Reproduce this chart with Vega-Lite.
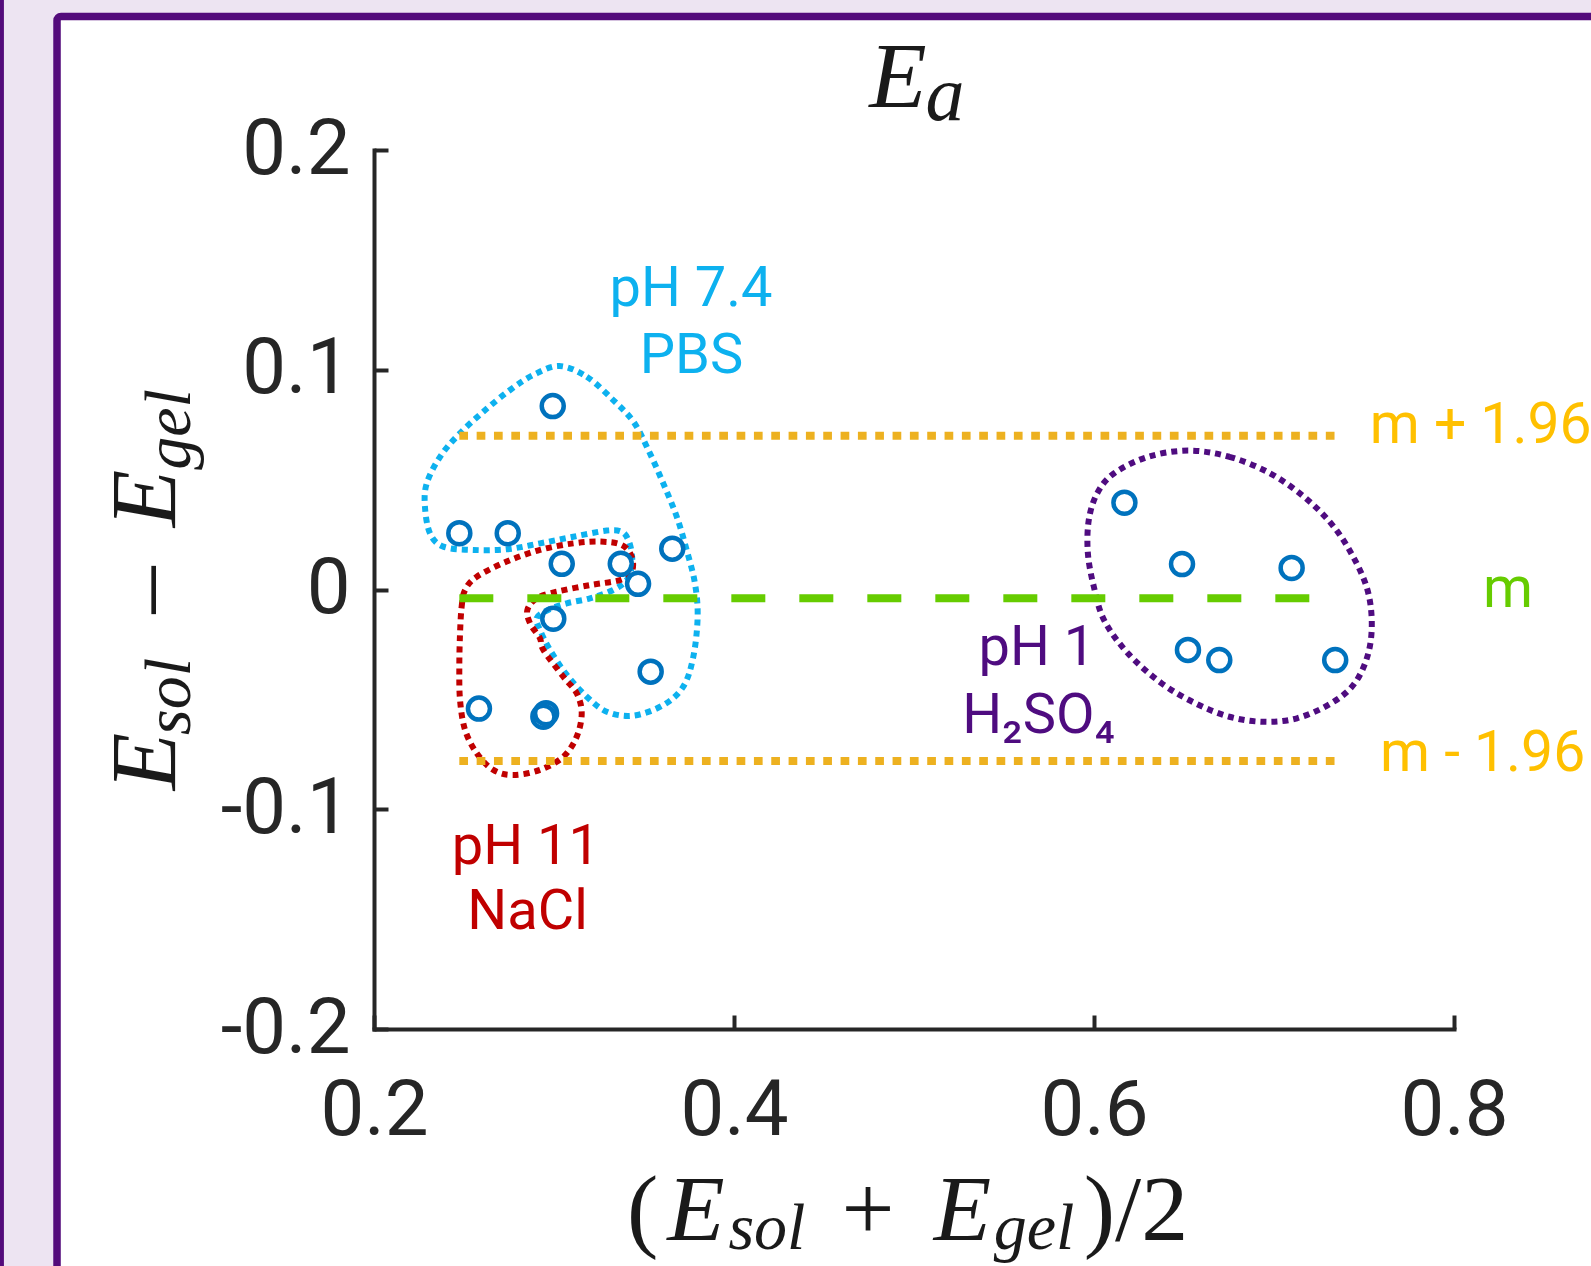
{
  "$schema": "https://vega.github.io/schema/vega-lite/v6.json",
  "width": 1080,
  "height": 879,
  "autosize": "none",
  "padding": {"left": 374, "top": 150, "right": 137, "bottom": 237},
  "background": "#EDE4F2",
  "config": {
    "view": {"stroke": null},
    "axis": {
      "grid": false, "domainColor": "#262626", "domainWidth": 4, "domainCap": "square",
      "tickColor": "#262626", "tickWidth": 4, "tickSize": -14,
      "labelFont": "Roboto", "labelFontSize": 78, "labelFontWeight": 400, "labelColor": "#262626",
      "labelFlush": false, "labelOverlap": false, "labelBound": false
    },
    "axisX": {"labelPadding": 57, "labelAlign": "center", "labelBaseline": "top"},
    "axisY": {"labelPadding": 38, "labelAlign": "right", "labelBaseline": "middle"}
  },
  "datasets": {
    "points": [
      {"solution": "PBS", "x": 0.2993, "y": 0.0835},
      {"solution": "PBS", "x": 0.2474, "y": 0.0256},
      {"solution": "PBS", "x": 0.2743, "y": 0.0256},
      {"solution": "PBS", "x": 0.3043, "y": 0.0117},
      {"solution": "PBS", "x": 0.3371, "y": 0.0117},
      {"solution": "PBS", "x": 0.3657, "y": 0.0186},
      {"solution": "PBS", "x": 0.3467, "y": 0.0026},
      {"solution": "PBS", "x": 0.2996, "y": -0.0133},
      {"solution": "PBS", "x": 0.3537, "y": -0.0374},
      {"solution": "NaCl", "x": 0.2583, "y": -0.0542},
      {"solution": "NaCl", "x": 0.2941, "y": -0.0579},
      {"solution": "NaCl", "x": 0.2956, "y": -0.0563},
      {"solution": "H2SO4", "x": 0.6169, "y": 0.0395},
      {"solution": "H2SO4", "x": 0.6489, "y": 0.0116},
      {"solution": "H2SO4", "x": 0.7098, "y": 0.0098},
      {"solution": "H2SO4", "x": 0.6522, "y": -0.0275},
      {"solution": "H2SO4", "x": 0.6696, "y": -0.0321},
      {"solution": "H2SO4", "x": 0.7340, "y": -0.0321}
    ],
    "limits": [
      {"name": "m", "x": 0.2474, "x2": 0.7340, "y": -0.0040},
      {"name": "upper", "x": 0.2474, "x2": 0.7340, "y": 0.0700},
      {"name": "lower", "x": 0.2474, "x2": 0.7340, "y": -0.0780}
    ],
    "outlines": [
      {"solution": "PBS", "i": 0, "x": 0.3029, "y": 0.1017},
      {"solution": "PBS", "i": 1, "x": 0.3182, "y": 0.0968},
      {"solution": "PBS", "i": 2, "x": 0.3329, "y": 0.0862},
      {"solution": "PBS", "i": 3, "x": 0.3441, "y": 0.0764},
      {"solution": "PBS", "i": 4, "x": 0.3524, "y": 0.0635},
      {"solution": "PBS", "i": 5, "x": 0.3607, "y": 0.0483},
      {"solution": "PBS", "i": 6, "x": 0.3682, "y": 0.0331},
      {"solution": "PBS", "i": 7, "x": 0.3737, "y": 0.0180},
      {"solution": "PBS", "i": 8, "x": 0.3783, "y": 0.0028},
      {"solution": "PBS", "i": 9, "x": 0.3798, "y": -0.0124},
      {"solution": "PBS", "i": 10, "x": 0.3774, "y": -0.0306},
      {"solution": "PBS", "i": 11, "x": 0.3718, "y": -0.0442},
      {"solution": "PBS", "i": 12, "x": 0.3607, "y": -0.0526},
      {"solution": "PBS", "i": 13, "x": 0.3441, "y": -0.0574},
      {"solution": "PBS", "i": 14, "x": 0.3293, "y": -0.0556},
      {"solution": "PBS", "i": 15, "x": 0.3182, "y": -0.0488},
      {"solution": "PBS", "i": 16, "x": 0.3071, "y": -0.0389},
      {"solution": "PBS", "i": 17, "x": 0.2978, "y": -0.0275},
      {"solution": "PBS", "i": 18, "x": 0.2922, "y": -0.0184},
      {"solution": "PBS", "i": 19, "x": 0.2904, "y": -0.0130},
      {"solution": "PBS", "i": 20, "x": 0.2967, "y": -0.0093},
      {"solution": "PBS", "i": 21, "x": 0.3071, "y": -0.0063},
      {"solution": "PBS", "i": 22, "x": 0.3200, "y": -0.0040},
      {"solution": "PBS", "i": 23, "x": 0.3329, "y": -0.0002},
      {"solution": "PBS", "i": 24, "x": 0.3404, "y": 0.0043},
      {"solution": "PBS", "i": 25, "x": 0.3432, "y": 0.0104},
      {"solution": "PBS", "i": 26, "x": 0.3432, "y": 0.0165},
      {"solution": "PBS", "i": 27, "x": 0.3413, "y": 0.0225},
      {"solution": "PBS", "i": 28, "x": 0.3376, "y": 0.0263},
      {"solution": "PBS", "i": 29, "x": 0.3293, "y": 0.0268},
      {"solution": "PBS", "i": 30, "x": 0.3107, "y": 0.0240},
      {"solution": "PBS", "i": 31, "x": 0.2922, "y": 0.0210},
      {"solution": "PBS", "i": 32, "x": 0.2737, "y": 0.0183},
      {"solution": "PBS", "i": 33, "x": 0.2552, "y": 0.0180},
      {"solution": "PBS", "i": 34, "x": 0.2385, "y": 0.0195},
      {"solution": "PBS", "i": 35, "x": 0.2311, "y": 0.0256},
      {"solution": "PBS", "i": 36, "x": 0.2283, "y": 0.0377},
      {"solution": "PBS", "i": 37, "x": 0.2293, "y": 0.0483},
      {"solution": "PBS", "i": 38, "x": 0.2367, "y": 0.0604},
      {"solution": "PBS", "i": 39, "x": 0.2468, "y": 0.0703},
      {"solution": "PBS", "i": 40, "x": 0.2607, "y": 0.0809},
      {"solution": "PBS", "i": 41, "x": 0.2756, "y": 0.0908},
      {"solution": "PBS", "i": 42, "x": 0.2885, "y": 0.0976},
      {"solution": "NaCl", "i": 0, "x": 0.2478, "y": -0.0199},
      {"solution": "NaCl", "i": 1, "x": 0.2487, "y": -0.0078},
      {"solution": "NaCl", "i": 2, "x": 0.2506, "y": -0.0002},
      {"solution": "NaCl", "i": 3, "x": 0.2571, "y": 0.0058},
      {"solution": "NaCl", "i": 4, "x": 0.2737, "y": 0.0127},
      {"solution": "NaCl", "i": 5, "x": 0.2922, "y": 0.0180},
      {"solution": "NaCl", "i": 6, "x": 0.3107, "y": 0.0210},
      {"solution": "NaCl", "i": 7, "x": 0.3256, "y": 0.0218},
      {"solution": "NaCl", "i": 8, "x": 0.3376, "y": 0.0203},
      {"solution": "NaCl", "i": 9, "x": 0.3432, "y": 0.0149},
      {"solution": "NaCl", "i": 10, "x": 0.3432, "y": 0.0081},
      {"solution": "NaCl", "i": 11, "x": 0.3367, "y": 0.0043},
      {"solution": "NaCl", "i": 12, "x": 0.3200, "y": 0.0020},
      {"solution": "NaCl", "i": 13, "x": 0.3015, "y": -0.0010},
      {"solution": "NaCl", "i": 14, "x": 0.2904, "y": -0.0040},
      {"solution": "NaCl", "i": 15, "x": 0.2852, "y": -0.0093},
      {"solution": "NaCl", "i": 16, "x": 0.2867, "y": -0.0154},
      {"solution": "NaCl", "i": 17, "x": 0.2922, "y": -0.0222},
      {"solution": "NaCl", "i": 18, "x": 0.2941, "y": -0.0275},
      {"solution": "NaCl", "i": 19, "x": 0.3052, "y": -0.0397},
      {"solution": "NaCl", "i": 20, "x": 0.3126, "y": -0.0472},
      {"solution": "NaCl", "i": 21, "x": 0.3154, "y": -0.0563},
      {"solution": "NaCl", "i": 22, "x": 0.3126, "y": -0.0670},
      {"solution": "NaCl", "i": 23, "x": 0.3052, "y": -0.0761},
      {"solution": "NaCl", "i": 24, "x": 0.2922, "y": -0.0821},
      {"solution": "NaCl", "i": 25, "x": 0.2774, "y": -0.0844},
      {"solution": "NaCl", "i": 26, "x": 0.2663, "y": -0.0821},
      {"solution": "NaCl", "i": 27, "x": 0.2571, "y": -0.0745},
      {"solution": "NaCl", "i": 28, "x": 0.2506, "y": -0.0639},
      {"solution": "NaCl", "i": 29, "x": 0.2478, "y": -0.0503},
      {"solution": "NaCl", "i": 30, "x": 0.2474, "y": -0.0351},
      {"solution": "H2SO4", "i": 0, "x": 0.6526, "y": 0.0632},
      {"solution": "H2SO4", "i": 1, "x": 0.6752, "y": 0.0604},
      {"solution": "H2SO4", "i": 2, "x": 0.6978, "y": 0.0529},
      {"solution": "H2SO4", "i": 3, "x": 0.7166, "y": 0.0422},
      {"solution": "H2SO4", "i": 4, "x": 0.7317, "y": 0.0301},
      {"solution": "H2SO4", "i": 5, "x": 0.7429, "y": 0.0165},
      {"solution": "H2SO4", "i": 6, "x": 0.7514, "y": 0.0013},
      {"solution": "H2SO4", "i": 7, "x": 0.7543, "y": -0.0139},
      {"solution": "H2SO4", "i": 8, "x": 0.7524, "y": -0.0290},
      {"solution": "H2SO4", "i": 9, "x": 0.7448, "y": -0.0427},
      {"solution": "H2SO4", "i": 10, "x": 0.7317, "y": -0.0518},
      {"solution": "H2SO4", "i": 11, "x": 0.7128, "y": -0.0586},
      {"solution": "H2SO4", "i": 12, "x": 0.6941, "y": -0.0602},
      {"solution": "H2SO4", "i": 13, "x": 0.6752, "y": -0.0579},
      {"solution": "H2SO4", "i": 14, "x": 0.6564, "y": -0.0518},
      {"solution": "H2SO4", "i": 15, "x": 0.6376, "y": -0.0427},
      {"solution": "H2SO4", "i": 16, "x": 0.6188, "y": -0.0290},
      {"solution": "H2SO4", "i": 17, "x": 0.6056, "y": -0.0139},
      {"solution": "H2SO4", "i": 18, "x": 0.5999, "y": 0.0013},
      {"solution": "H2SO4", "i": 19, "x": 0.5966, "y": 0.0165},
      {"solution": "H2SO4", "i": 20, "x": 0.5971, "y": 0.0316},
      {"solution": "H2SO4", "i": 21, "x": 0.6018, "y": 0.0438},
      {"solution": "H2SO4", "i": 22, "x": 0.6112, "y": 0.0529},
      {"solution": "H2SO4", "i": 23, "x": 0.6301, "y": 0.0604}
    ],
    "groupLabels": [
      {"solution": "PBS", "x": 0.3761, "y": 0.1290, "text": "pH 7.4"},
      {"solution": "PBS", "x": 0.3764, "y": 0.0985, "text": "PBS"},
      {"solution": "H2SO4", "x": 0.5683, "y": -0.0342, "text": "pH 1"},
      {"solution": "H2SO4", "x": 0.5692, "y": -0.0651, "text": "H₂SO₄"},
      {"solution": "NaCl", "x": 0.2844, "y": -0.1251, "text": "pH 11"},
      {"solution": "NaCl", "x": 0.2853, "y": -0.1547, "text": "NaCl"}
    ],
    "limitLabels": [
      {"name": "upper", "x": 0.7532, "y": 0.0665, "text": "m + 1.96"},
      {"name": "m", "x": 0.8161, "y": -0.0079, "text": "m"},
      {"name": "lower", "x": 0.7589, "y": -0.0826, "text": "m - 1.96"}
    ],
    "mathItalic": [
      {"x": 0.3789, "y": -0.2960, "text": "E"},
      {"x": 0.5269, "y": -0.2960, "text": "E"},
      {"x": 0.4911, "y": 0.2196, "text": "E"}
    ],
    "mathSub": [
      {"x": 0.4183, "y": -0.3001, "text": "sol"},
      {"x": 0.5667, "y": -0.3001, "text": "gel"}
    ],
    "mathTitleSub": [
      {"x": 0.5172, "y": 0.2137, "text": "a"}
    ],
    "mathUpright": [
      {"x": 0.3492, "y": -0.2960, "text": "("},
      {"x": 0.4744, "y": -0.2960, "text": "+"},
      {"x": 0.6233, "y": -0.2960, "text": ")/2"}
    ],
    "mathItalicRot": [
      {"x": 0.0894, "y": -0.0783, "text": "E"},
      {"x": 0.0894, "y": 0.0414, "text": "E"}
    ],
    "mathSubRot": [
      {"x": 0.0977, "y": -0.0487, "text": "sol"},
      {"x": 0.0977, "y": 0.0728, "text": "gel"}
    ],
    "mathUprightRot": [
      {"x": 0.0894, "y": -0.0002, "text": "–"}
    ]
  },
  "encoding": {
    "x": {"field": "x", "type": "quantitative", "title": null,
      "scale": {"domain": [0.2, 0.8], "nice": false, "zero": false},
      "axis": {"zindex": 1, "values": [0.2, 0.4, 0.6, 0.8], "labelExpr": "replace(format(datum.value, '.1f'), '−', '-')"}},
    "y": {"field": "y", "type": "quantitative", "title": null,
      "scale": {"domain": [-0.2, 0.2], "nice": false, "zero": false},
      "axis": {"zindex": 1, "values": [-0.2, -0.1, 0, 0.1, 0.2], "labelExpr": "datum.value == 0 ? '0' : replace(format(datum.value, '.1f'), '−', '-')"}}
  },
  "layer": [
    {
      "data": {"name": "limits"},
      "transform": [{"filter": "datum.name == 'm'"}],
      "mark": {"type": "rect", "fill": "#FFFFFF", "stroke": "#530B7B", "strokeWidth": 7.5, "cornerRadius": 4},
      "encoding": {
        "x": {"datum": 0.0239},
        "x2": {"datum": 0.8922},
        "y": {"datum": 0.2608},
        "y2": {"datum": -0.3233}
      }
    },
    {
      "data": {"name": "limits"},
      "transform": [{"filter": "datum.name == 'm'"}],
      "mark": {"type": "rect", "fill": "#530B7B"},
      "encoding": {
        "x": {"datum": -0.0106},
        "x2": {"datum": -0.0056},
        "y": {"datum": 0.3},
        "y2": {"datum": -0.35}
      }
    },
    {
      "data": {"name": "outlines"},
      "mark": {"type": "line", "interpolate": "cardinal-closed", "strokeWidth": 6, "strokeDash": [6, 5], "strokeCap": "butt"},
      "encoding": {
        "color": {"field": "solution", "type": "nominal", "legend": null,
          "scale": {"domain": ["PBS", "NaCl", "H2SO4"], "range": ["#0DB1EF", "#C00000", "#4F0C80"]}},
        "detail": {"field": "solution"},
        "order": {"field": "i", "type": "quantitative"}
      }
    },
    {
      "data": {"name": "limits"},
      "transform": [{"filter": "datum.name == 'm'"}],
      "mark": {"type": "rule", "color": "#66CC00", "strokeWidth": 8, "strokeDash": [34, 34], "strokeCap": "butt"},
      "encoding": {"x2": {"field": "x2"}}
    },
    {
      "data": {"name": "limits"},
      "transform": [{"filter": "datum.name != 'm'"}],
      "mark": {"type": "rule", "color": "#EDB120", "strokeWidth": 8, "strokeDash": [8.7, 8.63], "strokeCap": "butt"},
      "encoding": {"x2": {"field": "x2"}}
    },
    {
      "data": {"name": "points"},
      "mark": {"type": "point", "shape": "circle", "filled": false, "size": 484, "strokeWidth": 4.5, "color": "#0072BD", "opacity": 1}
    },
    {
      "data": {"name": "groupLabels"},
      "mark": {"type": "text", "font": "Roboto", "fontSize": 56, "align": "center", "baseline": "alphabetic"},
      "encoding": {
        "text": {"field": "text"},
        "color": {"field": "solution", "type": "nominal", "legend": null,
          "scale": {"domain": ["PBS", "NaCl", "H2SO4"], "range": ["#0DB1EF", "#C00000", "#4F0C80"]}}
      }
    },
    {
      "data": {"name": "limitLabels"},
      "transform": [{"filter": "datum.name != 'm'"}],
      "mark": {"type": "text", "font": "Roboto", "fontSize": 57, "align": "left", "baseline": "alphabetic", "color": "#FFC000"},
      "encoding": {"text": {"field": "text"}}
    },
    {
      "data": {"name": "limitLabels"},
      "transform": [{"filter": "datum.name == 'm'"}],
      "mark": {"type": "text", "font": "Roboto", "fontSize": 57, "align": "left", "baseline": "alphabetic", "color": "#66CC00"},
      "encoding": {"text": {"field": "text"}}
    },
    {
      "data": {"name": "mathItalic"},
      "mark": {"type": "text", "font": "Liberation Serif", "fontStyle": "italic", "fontSize": 94, "align": "center", "baseline": "alphabetic", "color": "#1A1A1A"},
      "encoding": {"text": {"field": "text"}}
    },
    {
      "data": {"name": "mathSub"},
      "mark": {"type": "text", "font": "Liberation Serif", "fontStyle": "italic", "fontSize": 66, "align": "center", "baseline": "alphabetic", "color": "#1A1A1A"},
      "encoding": {"text": {"field": "text"}}
    },
    {
      "data": {"name": "mathTitleSub"},
      "mark": {"type": "text", "font": "Liberation Serif", "fontStyle": "italic", "fontSize": 78, "align": "center", "baseline": "alphabetic", "color": "#1A1A1A"},
      "encoding": {"text": {"field": "text"}}
    },
    {
      "data": {"name": "mathUpright"},
      "mark": {"type": "text", "font": "Liberation Serif", "fontSize": 94, "align": "center", "baseline": "alphabetic", "color": "#1A1A1A"},
      "encoding": {"text": {"field": "text"}}
    },
    {
      "data": {"name": "mathItalicRot"},
      "mark": {"type": "text", "font": "Liberation Serif", "fontStyle": "italic", "fontSize": 94, "angle": 270, "align": "center", "baseline": "alphabetic", "color": "#1A1A1A"},
      "encoding": {"text": {"field": "text"}}
    },
    {
      "data": {"name": "mathSubRot"},
      "mark": {"type": "text", "font": "Liberation Serif", "fontStyle": "italic", "fontSize": 66, "angle": 270, "align": "center", "baseline": "alphabetic", "color": "#1A1A1A"},
      "encoding": {"text": {"field": "text"}}
    },
    {
      "data": {"name": "mathUprightRot"},
      "mark": {"type": "text", "font": "Liberation Serif", "fontSize": 94, "angle": 270, "align": "center", "baseline": "alphabetic", "color": "#1A1A1A"},
      "encoding": {"text": {"field": "text"}}
    }
  ]
}
